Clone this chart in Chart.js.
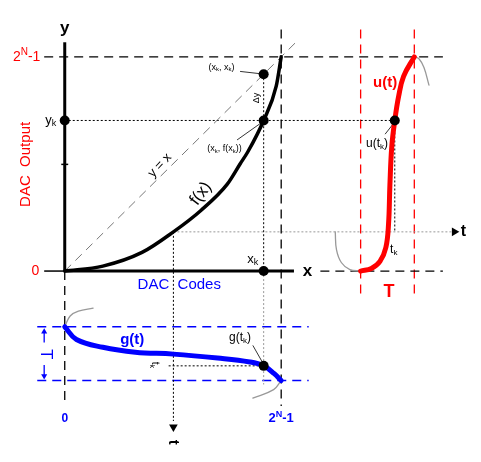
<!DOCTYPE html>
<html>
<head>
<meta charset="utf-8">
<script src="https://cdn.jsdelivr.net/npm/chart.js@4.4.1/dist/chart.umd.min.js"></script>
<style>
  html, body { margin: 0; padding: 0; background: #fff; }
  #wrap { width: 481px; height: 462px; }
</style>
</head>
<body>
<div id="wrap"><canvas id="myChart" width="481" height="462"></canvas></div>
<script>
// transfer function f(x): DAC code (0..1 of 2^N-1) -> DAC output (0..1)
let codes   = [0, 0.176, 0.357, 0.502, 0.629, 0.751, 0.81, 0.846, 0.919, 0.977, 1.0];
let outputs = [0, 0.023, 0.087, 0.183, 0.283, 0.406, 0.50, 0.557, 0.703, 0.863, 1.0];

// u(t) over one period T (time as fraction of T)
let uTime  = [0, 0.20, 0.36, 0.47, 0.52, 0.545, 0.58, 0.636, 0.709, 0.80, 1.0];
let uValue = [0, 0.012, 0.045, 0.11, 0.22, 0.40, 0.58, 0.703, 0.817, 0.909, 1.0];
// grey continuation of u(t) outside the period
let uPreTime   = [-0.473, -0.45, -0.36, -0.20, 0];
let uPreValue  = [0.183, 0.10, 0.040, 0.007, 0];
let uPostTime  = [1.0, 1.09, 1.18, 1.273];
let uPostValue = [1.0, 0.99, 0.95, 0.868];

// g(t) = f^-1(u(t)): code reached at each time of the period
let gTime  = [0, 0.236, 0.382, 0.473, 0.509, 0.582, 0.655, 0.727, 0.873, 1.0];
let gValue = [0, 0.054, 0.176, 0.326, 0.502, 0.706, 0.855, 0.919, 0.968, 1.0];
let gPreTime   = [0, -0.20, -0.29, -0.345];
let gPreValue  = [0, 0.025, 0.063, 0.131];
let gPostTime  = [1.0, 1.17, 1.327];
let gPostValue = [1.0, 0.965, 0.869];

// the sampled point k
let xk = 0.919, yk = 0.703;
let tkU = 0.636, tkG = 0.727;
// level where the time axis of u(t) sits (f at mid code)
let tAxisCode = 0.502, tAxisLevel = 0.183;

// where the two side plots sit in the chart's units
let uT0 = 1.367, uT1 = 1.615;     // horizontal span of T for u(t)
let gT0 = -0.260, gT1 = -0.511;   // vertical span of T for g(t)

const uX = t => uT0 + t * (uT1 - uT0);
const gY = t => gT0 + t * (gT1 - gT0);
const zip = (xs, ys) => xs.map((v, i) => ({ x: v, y: ys[i] }));

const RED = '#ff0000', BLUE = '#0000ff', GREY = '#999999';

function seg(pts, color, width, dash, order) {
  return {
    data: pts.map(p => ({ x: p[0], y: p[1] })),
    showLine: true, borderColor: color, borderWidth: width,
    borderDash: dash || [], pointRadius: 0, tension: 0, order: order || 5
  };
}
function curve(pts, color, width, order, smooth) {
  let ds = {
    data: pts, showLine: true, borderColor: color, borderWidth: width,
    pointRadius: 0, order: order, borderCapStyle: 'round'
  };
  if (smooth) ds.tension = smooth; else ds.cubicInterpolationMode = 'monotone';
  return ds;
}

const DASH = [9, 6], DOT = [2, 2];

let datasets = [
  // axes and ticks
  seg([[0, 0], [0, 1.068]], '#000', 3, null, 4),
  seg([[0, 0], [1.059, 0]], '#000', 3, null, 4),
  seg([[-0.095, 0], [0, 0]], '#000', 1.5),
  seg([[-0.016, 0.498], [0.016, 0.498]], '#000', 1.5),
  // full scale guides
  seg([[-0.095, 1], [1.747, 1]], '#000', 1.3, DASH),
  seg([[1, 1.128], [1, -0.63]], '#000', 1.3, DASH),
  seg([[0, 0], [0, -0.63]], '#000', 1.3, DASH),
  seg([[uX(-0.75), 0], [1.747, 0]], '#000', 1.3, DASH),
  seg([[0, 0], [1.072, 1.072]], '#777', 1, DASH),
  // sample guides
  seg([[0, yk], [uX(tkU), yk]], '#000', 1, DOT),
  seg([[xk, xk], [xk, 0]], '#000', 1, DOT),
  seg([[xk, 0], [xk, -0.53]], GREY, 1, DOT),
  seg([[uX(tkU), yk], [uX(tkU), tAxisLevel]], '#000', 1, DOT),
  seg([[0.48, gY(tkG)], [xk, gY(tkG)]], '#000', 1, DOT),
  // time axes
  seg([[tAxisCode, tAxisLevel], [1.79, tAxisLevel]], GREY, 1, DOT),
  seg([[tAxisCode, tAxisLevel], [tAxisCode, -0.70]], '#000', 1, DOT),
  // period T markers
  seg([[uT0, 1.128], [uT0, -0.128]], RED, 1.3, DASH),
  seg([[uT1, 1.128], [uT1, -0.128]], RED, 1.3, DASH),
  seg([[-0.127, gT0], [1.127, gT0]], BLUE, 1.3, DASH),
  seg([[-0.127, gT1], [1.127, gT1]], BLUE, 1.3, DASH),
  seg([[-0.095, -0.333], [-0.095, -0.28]], BLUE, 1.3),
  seg([[-0.095, -0.438], [-0.095, -0.495]], BLUE, 1.3),
  // leader lines
  seg([[0.81, 0.932], [0.905, 0.921]], '#000', 0.8),
  seg([[0.796, 0.612], [0.905, 0.69]], '#000', 0.8),
  seg([[1.48, 0.639], [1.516, 0.685]], '#000', 0.8),
  seg([[0.869, -0.347], [0.91, -0.42]], '#000', 0.8),
  // curves
  curve(zip(uPreTime.map(uX), uPreValue), GREY, 1.3, 3, 0.4),
  curve(zip(uPostTime.map(uX), uPostValue), GREY, 1.3, 3, 0.4),
  curve(zip(gPreValue, gPreTime.map(gY)).sort((a, b) => a.x - b.x), GREY, 1.3, 3, 0.4),
  curve(zip(gPostValue, gPostTime.map(gY)).sort((a, b) => a.x - b.x), GREY, 1.3, 3, 0.4),
  curve(zip(codes, outputs), '#000', 3.5, 2),
  curve(zip(uTime.map(uX), uValue), RED, 5, 2, 0.4),
  curve(zip(gValue, gTime.map(gY)), BLUE, 5, 2, 0.4),
  // sample points
  {
    data: [{ x: xk, y: xk }, { x: xk, y: yk }, { x: 0, y: yk }, { x: xk, y: 0 },
           { x: uX(tkU), y: yk }, { x: xk, y: gY(tkG) }],
    pointRadius: 5, pointBackgroundColor: '#000', pointBorderWidth: 0, order: 1
  },
  // arrow heads
  {
    data: [{ x: 1.80, y: tAxisLevel }], pointStyle: 'triangle', rotation: 90,
    pointRadius: 5, pointBackgroundColor: '#000', pointBorderWidth: 0, order: 1
  },
  {
    data: [{ x: tAxisCode, y: -0.728 }], pointStyle: 'triangle', rotation: 180,
    pointRadius: 5, pointBackgroundColor: '#000', pointBorderWidth: 0, order: 1
  },
  {
    data: [{ x: -0.095, y: -0.283 }], pointStyle: 'triangle', rotation: 0,
    pointRadius: 3.5, pointBackgroundColor: BLUE, pointBorderWidth: 0, order: 1
  },
  {
    data: [{ x: -0.095, y: -0.49 }], pointStyle: 'triangle', rotation: 180,
    pointRadius: 3.5, pointBackgroundColor: BLUE, pointBorderWidth: 0, order: 1
  }
];

// text: [text, x, y, size, color, bold, rotationDeg]
let labels = [
  ['y', 0, 1.135, 17, '#000', true, 0],
  ['x', 1.122, 0, 17, '#000', true, 0],
  ['2^{N}-1', -0.176, 1.0, 14, RED, false, 0],
  ['y_{k}', -0.065, 0.703, 13, '#000', false, 0],
  ['0', -0.136, 0, 14, RED, false, 0],
  ['DAC  Output', -0.178, 0.498, 15, RED, false, -90],
  ['DAC  Codes', 0.529, -0.064, 15, BLUE, false, 0],
  ['y = x', 0.439, 0.493, 13, '#000', false, -47],
  ['f(x)', 0.629, 0.361, 17, '#000', false, -53],
  ['(x_{k}, x_{k})', 0.724, 0.95, 9, '#000', false, 0],
  ['Δy', 0.887, 0.808, 9, '#000', false, -90],
  ['(x_{k}, f(x_{k}))', 0.738, 0.571, 9, '#000', false, 0],
  ['x_{k}', 0.869, 0.055, 13, '#000', false, 0],
  ['u(t)', 1.48, 0.877, 15, RED, true, 0],
  ['u(t_{k})', 1.443, 0.594, 12, '#000', false, 0],
  ['t_{k}', 1.52, 0.10, 12, '#000', false, 0],
  ['T', 1.498, -0.096, 18, RED, true, 0],
  ['t', 1.842, tAxisLevel, 16, '#000', true, 0],
  ['g(t)', 0.312, -0.32, 15, BLUE, true, 0],
  ['g(t_{k})', 0.81, -0.311, 12, '#000', false, 0],
  ['t_{k}', 0.416, -0.438, 10, '#000', false, 90],
  ['t', tAxisCode, -0.799, 15, '#000', true, 90],
  ['0', 0, -0.689, 12, BLUE, true, 0],
  ['2^{N}-1', 1, -0.689, 13, BLUE, true, 0],
  ['T', -0.086, -0.388, 17, BLUE, false, 90]
];

function parseRich(s) {
  let out = [], i = 0, buf = '';
  while (i < s.length) {
    let c = s[i];
    if ((c === '_' || c === '^') && s[i + 1] === '{') {
      if (buf) { out.push({ t: buf, m: 0 }); buf = ''; }
      let j = s.indexOf('}', i);
      out.push({ t: s.slice(i + 2, j), m: c === '_' ? 1 : 2 });
      i = j + 1;
    } else { buf += c; i++; }
  }
  if (buf) out.push({ t: buf, m: 0 });
  return out;
}

const textPlugin = {
  id: 'diagramText',
  afterDatasetsDraw(chart) {
    const ctx = chart.ctx, sx = chart.scales.x, sy = chart.scales.y;
    labels.forEach(([text, x, y, size, color, bold, rot]) => {
      const parts = parseRich(text);
      const font = sz => (bold ? 'bold ' : '') + sz + 'px "Liberation Sans", Arial, sans-serif';
      ctx.save();
      let w = 0;
      parts.forEach(p => {
        ctx.font = font(p.m ? Math.round(size * 0.7) : size);
        p.w = ctx.measureText(p.t).width;
        w += p.w;
      });
      ctx.translate(sx.getPixelForValue(x), sy.getPixelForValue(y));
      ctx.rotate(rot * Math.PI / 180);
      ctx.fillStyle = color;
      ctx.textBaseline = 'middle';
      ctx.textAlign = 'left';
      let cx = -w / 2;
      parts.forEach(p => {
        ctx.font = font(p.m ? Math.round(size * 0.7) : size);
        let dy = p.m === 1 ? size * 0.25 : p.m === 2 ? -size * 0.35 : 0;
        ctx.fillText(p.t, cx, dy);
        cx += p.w;
      });
      ctx.restore();
    });
  }
};

let ctx = document.getElementById('myChart').getContext('2d');
let myChart = new Chart(ctx, {
  type: 'scatter',
  data: { datasets: datasets },
  options: {
    responsive: false,
    animation: false,
    events: [],
    layout: { padding: 0 },
    plugins: { legend: { display: false }, tooltip: { enabled: false } },
    scales: {
      x: { type: 'linear', display: false, min: -0.276, max: 1.900 },
      y: { type: 'linear', display: false, min: -0.868, max: 1.242 }
    }
  },
  plugins: [textPlugin]
});
</script>
</body>
</html>
